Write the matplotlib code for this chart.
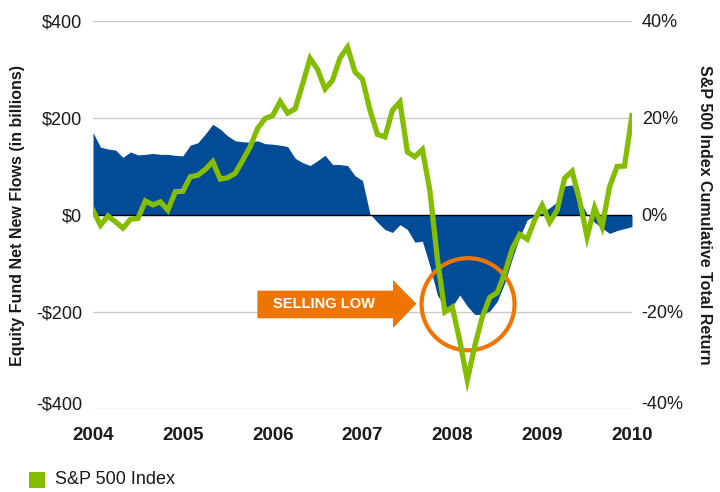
import numpy as np
import matplotlib.pyplot as plt
import matplotlib.transforms as mtransforms
from matplotlib.patches import Polygon, Ellipse, Rectangle

plt.rcParams['font.family'] = ['Liberation Sans', 'DejaVu Sans']

# monthly, Jan 2004 .. Jan 2010
months = 2004 + np.arange(73) / 12.0

# equity fund net new flows ($ billions)
flows = [170, 140, 136, 134, 119, 130, 124, 125, 127, 125, 125, 123,
         122, 144, 149, 167, 187, 177, 163, 153, 151, 150, 153, 147,
         146, 144, 141, 117, 108, 102, 112, 123, 104, 104, 102, 81,
         71, 2, -15, -30, -36, -20, -30, -56, -54, -105, -165, -190,
         -188, -165, -188, -205, -205, -198, -178, -140, -90, -45, -10, -2,
         5, 15, 27, 60, 62, 30, 2, -15, -27, -38, -32, -28, -24]

# S&P 500 cumulative total return (%)
sp500 = [1.0, -2.1, -0.2, -1.4, -2.7, -0.9, -0.7, 2.9, 2.1, 2.7, 1.0, 4.8,
         4.9, 7.9, 8.2, 9.4, 11.0, 7.4, 7.7, 8.6, 11.3, 14.1, 17.9, 19.9,
         20.5, 23.4, 21.0, 21.9, 27.0, 32.3, 30.0, 26.0, 27.8, 32.4, 34.6, 29.5,
         28.0, 21.6, 16.6, 16.1, 21.6, 23.3, 13.0, 12.0, 13.5, 5.0, -9.0, -20.0,
         -19.0, -26.0, -34.0, -27.0, -21.0, -17.0, -16.0, -12.0, -7.0, -4.0, -5.0, -1.0,
         2.0, -1.5, 1.0, 7.6, 9.0, 3.0, -4.5, 1.5, -2.4, 5.8, 10.0, 10.1, 20.5]

years = [2004, 2005, 2006, 2007, 2008, 2009, 2010]
left_ticks = [400, 200, 0, -200, -400]
left_labels = ['$400', '$200', '$0', '-$200', '-$400']
right_ticks = [40, 20, 0, -20, -40]
right_labels = ['40%', '20%', '0%', '-20%', '-40%']

blue = '#024c97'
green = '#84bd00'
orange = '#ee7600'
txt = '#1a1a1a'

fig = plt.figure(figsize=(7.2, 4.92), dpi=100)
ax = fig.add_axes([93 / 720, 1 - 409 / 492, 539 / 720, 388 / 492])

ax.fill_between(months, 0, flows, color=blue, lw=0, zorder=2)
for v in [400, 200, -200, -400]:
    ax.axhline(v, color='#cccccc', lw=1, zorder=1)
ax.axhline(0, color='black', lw=1, zorder=3)

ax.set_xlim(2004, 2010)
ax.set_ylim(-400, 400)
ax.set_xticks(years)
ax.set_xticklabels([str(y) for y in years], fontsize=13.5, fontweight='bold', color=txt)
ax.set_yticks(left_ticks)
ax.set_yticklabels(left_labels, fontsize=13, color=txt)
ax.tick_params(axis='both', length=0)
ax.tick_params(axis='y', pad=8)
ax.tick_params(axis='x', pad=13)
for s in ax.spines.values():
    s.set_visible(False)

# selling low arrow
arrow = Polygon([(2005.83, -156), (2007.34, -156), (2007.34, -134), (2007.60, -183),
                 (2007.34, -233), (2007.34, -213), (2005.83, -213)],
                closed=True, color=orange, lw=0, zorder=4)
ax.add_patch(arrow)
ax.text(2006.57, -183, 'SELLING LOW', color='white', fontsize=10.5, fontweight='bold',
        ha='center', va='center', zorder=5)
ax.add_patch(Ellipse((2008.175, -184), 1.035, 190, fill=False, ec=orange, lw=3, zorder=4))

ax2 = ax.twinx()
ax2.plot(months, sp500, color=green, lw=3.8, solid_joinstyle='miter', zorder=5)
ax2.set_ylim(-40, 40)
ax2.set_yticks(right_ticks)
ax2.set_yticklabels(right_labels, fontsize=13, color=txt)
ax2.tick_params(axis='y', length=0, pad=7)
for s in ax2.spines.values():
    s.set_visible(False)

# bottom labels sit a little above their gridline
shift = mtransforms.ScaledTranslation(0, 6 / 100, fig.dpi_scale_trans)
for lab in [ax.get_yticklabels()[-1], ax2.get_yticklabels()[-1]]:
    lab.set_transform(lab.get_transform() + shift)

fig.text(18 / 720, 1 - 215 / 492, 'Equity Fund Net New Flows (in billions)', rotation=90,
         ha='center', va='center', fontsize=11.5, fontweight='bold', color=txt)
fig.text(704 / 720, 1 - 215 / 492, 'S&P 500 Index Cumulative Total Return', rotation=270,
         ha='center', va='center', fontsize=11.5, fontweight='bold', color=txt)

fig.add_artist(Rectangle((29 / 720, 1 - 488 / 492), 16 / 720, 16 / 492,
                         transform=fig.transFigure, color=green, lw=0))
fig.text(55 / 720, 1 - 480 / 492, 'S&P 500 Index', ha='left', va='center', fontsize=13, color=txt)

fig.savefig('out.png', dpi=100)
